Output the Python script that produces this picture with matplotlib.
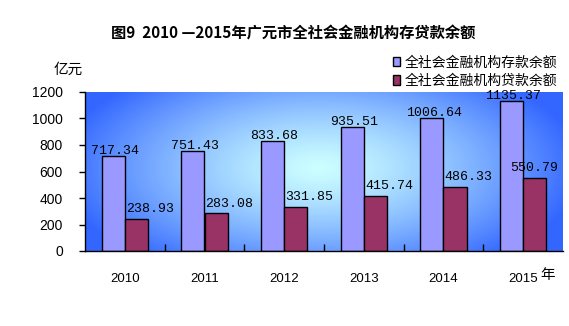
import matplotlib
matplotlib.use("Agg")
import matplotlib.pyplot as plt
import numpy as np

plt.rcParams['font.family'] = ['Noto Sans CJK SC', 'DejaVu Sans']

years = ["2010", "2011", "2012", "2013", "2014", "2015"]
deposits = [717.34, 751.43, 833.68, 935.51, 1006.64, 1135.37]
loans = [238.93, 283.08, 331.85, 415.74, 486.33, 550.79]

dep_color = "#9999FF"
loan_color = "#993366"

fig = plt.figure(figsize=(5.69, 3.26), dpi=100)
ax = fig.add_axes([85 / 569, 1 - 251 / 326, 478 / 569, 159 / 326])

# blue background with a light cyan glow in the middle
gx, gy = np.meshgrid(np.linspace(0, 1, 300), np.linspace(0, 1, 120))
r = np.sqrt(((gx - 0.49) / 0.55) ** 2 + ((gy - 0.52) / 0.75) ** 2)
t = np.clip(r, 0, 1) ** 1.3
c0 = np.array([0.80, 1.0, 1.0])
c1 = np.array([0.20, 0.40, 1.0])
img = c0[None, None, :] * (1 - t[..., None]) + c1[None, None, :] * t[..., None]
ax.imshow(img, extent=[0, 1, 0, 1], transform=ax.transAxes, aspect="auto",
          zorder=0, origin="lower")

x = np.arange(len(years))
w = 0.29
b1 = ax.bar(x - w / 2, deposits, w, color=dep_color, edgecolor="black",
            linewidth=1, zorder=2, label="全社会金融机构存款余额")
b2 = ax.bar(x + w / 2, loans, w, color=loan_color, edgecolor="black",
            linewidth=1, zorder=2, label="全社会金融机构贷款余额")

num_font = dict(family="Liberation Mono", fontsize=9.5, zorder=3)
for xi, v in zip(x, deposits):
    ax.text(xi - w / 2 + 0.02, v - 8, f"{v:.2f}", ha="center", va="bottom", **num_font)
# loan labels sit right of the bar but stay inside the plot area
for xi, v in zip(x, loans):
    cx = min(xi + w / 2 + 0.17, 5.5 - 0.36)
    ax.text(cx, v + 30, f"{v:.2f}", ha="center", va="bottom", **num_font)

ax.set_xlim(-0.5, 5.5)
ax.set_ylim(0, 1200)
ax.set_yticks(range(0, 1201, 200))
ax.set_yticklabels([str(v) for v in range(0, 1201, 200)],
                   family="Liberation Sans", fontsize=10)
ax.set_xticks(x)
ax.set_xticklabels(years, family="Liberation Sans", fontsize=9.5)
ax.tick_params(axis="x", length=0, pad=16)
ax.set_xticks(np.arange(0.5, 5.5, 1), minor=True)
ax.tick_params(axis="x", which="minor", direction="in", length=5, width=1)
ax.tick_params(axis="y", direction="out", length=4, width=1, pad=12)
for s in ["top", "right"]:
    ax.spines[s].set_visible(False)
ax.spines["left"].set_linewidth(1)
ax.spines["bottom"].set_linewidth(1)

fig.text(293 / 569, 1 - 33 / 326, "图9  2010 —2015年广元市全社会金融机构存贷款余额",
         ha="center", va="center", fontsize=11, fontweight="bold")
fig.text(68 / 569, 1 - 70 / 326, "亿元", ha="center", va="center", fontsize=10.5)
fig.text(548 / 569, 1 - 275 / 326, "年", ha="center", va="center", fontsize=10.5)

fig.legend(handles=[b1, b2], loc="upper right", bbox_to_anchor=(567 / 569, 1 - 46 / 326),
           frameon=False, fontsize=10, handlelength=0.55, handleheight=0.65,
           handletextpad=0.3, labelspacing=0.3, borderpad=0.2)

fig.savefig("out.png", dpi=100)
